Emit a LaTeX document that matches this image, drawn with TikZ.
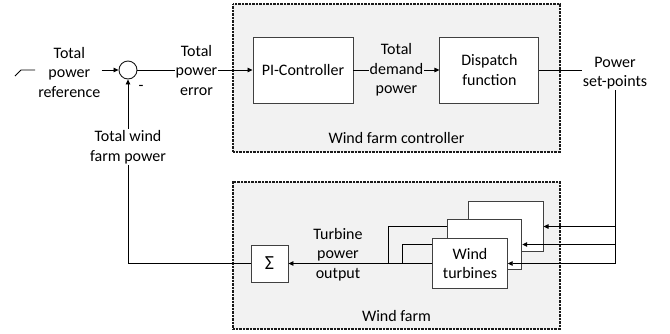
\documentclass[tikz,border=0pt]{standalone}
\usepackage{fontspec}
\setmainfont{Carlito}
\usetikzlibrary{arrows.meta,positioning,calc}
\definecolor{wfgray}{HTML}{F2F2F2}
\definecolor{wfink}{HTML}{1A1A1A}
\definecolor{wfedge}{HTML}{404040}
\tikzset{
  frameBox/.style={draw=wfink, fill=wfgray, line width=1.2pt, dash pattern=on 0.9pt off 0.5pt, minimum width=327pt, inner sep=0pt},
  blockBox/.style={draw=wfedge, fill=white, line width=0.9pt, align=center, inner sep=2pt},
  sumNode/.style={circle, draw=wfink, fill=white, line width=0.9pt, minimum size=18pt, inner sep=0pt},
  sigText/.style={align=center, inner sep=1pt},
  sigArrow/.style={-{Triangle[length=5pt,width=4.5pt]}, line width=0.8pt, draw=black},
  sigLine/.style={line width=0.8pt, draw=black}
}

\begin{document}
\begin{tikzpicture}[x=1pt, y=1pt, font=\fontsize{16}{19.5}\selectfont]
  \useasboundingbox (0,0) rectangle (670,-333);

  % frames
  \node[frameBox, minimum height=148pt] (wfc) at (396.5,-78) {};
  \node[frameBox, minimum height=147pt] (wf) at (396.5,-255.5) {};
  \node (wfcLab) at ($(wfc.south)+(0,15)$) {Wind farm controller};
  \node (wfLab) at ($(wf.south)+(0,14)$) {Wind farm};

  % controller blocks
  \node[blockBox, minimum width=100pt, minimum height=66pt] (pi) at (303,-70) {PI-Controller};
  \node[blockBox, minimum width=99pt, minimum height=66pt, right=86pt of pi] (dsp) {Dispatch\\function};
  \node[sumNode] (sum) at (128,-70) {};
  \node[sigText, left=17pt of sum, yshift=-2pt] (ref) {Total\\power\\reference};
  \node (minus) at (141,-88) {-};
  \node[sigText] (spt) at (615,-73) {Power\\set-points};

  % wind farm blocks
  \node[blockBox, minimum width=37pt, minimum height=37pt, font=\fontsize{20}{20}\selectfont] (sig) at (269.5,-263.5) {Σ};
  \node[blockBox, minimum width=74.5pt, minimum height=50pt] (wt3) at (505.8,-226.5) {};
  \node[blockBox, minimum width=74.5pt, minimum height=50pt] (wt2) at (484.5,-244.5) {};
  \node[blockBox, minimum width=74.5pt, minimum height=50pt] (wt1) at (470,-263.5) {Wind\\turbines};
  \node[sigText] (tpo) at (338,-254.7) {Turbine\\power\\output};

  % input ramp
  \draw[sigLine] (15,-76) -- (21,-70) -- (35,-70);

  % signal flow
  \draw[sigArrow] (ref.east |- sum.west) -- (sum.west);
  \draw[sigArrow] (sum.east) -- (pi.west);
  \node[sigText, fill=white] (err) at (196.5,-70) {Total\\power\\error};
  \draw[sigArrow] (pi.east) -- (dsp.west);
  \node[sigText, fill=wfgray] (dem) at ($(pi.east)!0.5!(dsp.west)$) {Total\\demand\\power};
  \draw[sigLine] (dsp.east) -- (dsp.east -| spt.west);
  \draw[sigLine] (spt.south) -- (spt.south |- wt1.east);
  \foreach \b in {wt1,wt2,wt3}
    \draw[sigArrow] (spt.south |- \b.east) -- (\b.east);

  % turbine outputs
  \draw[sigLine] (wt2.west |- wt3.west) -| ($(wt1.west)+(-44,0)$);
  \draw[sigLine] (wt1.west |- wt2.west) -| ($(wt1.west)+(-30,0)$);
  \draw[sigArrow] (wt1.west) -- (sig.east);

  % feedback
  \draw[sigArrow] (sig.west) -| (sum.south);
  \node[sigText, fill=white] (fbt) at (128,-147) {Total wind\\farm power};
\end{tikzpicture}
\end{document}
